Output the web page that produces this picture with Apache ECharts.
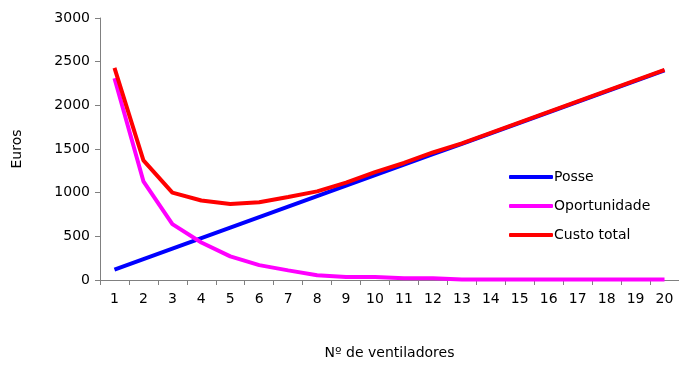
<!DOCTYPE html>
<html><head><meta charset="utf-8">
<script src="https://cdn.jsdelivr.net/npm/echarts@6/dist/echarts.min.js"></script>
<style>html,body{margin:0;padding:0;background:#fff}#c{width:679px;height:365px}</style>
</head><body><div id="c"></div>
<script>
var categories = ['1','2','3','4','5','6','7','8','9','10','11','12','13','14','15','16','17','18','19','20'];
var posse = [120,240,360,480,600,720,840,960,1080,1200,1320,1440,1560,1680,1800,1920,2040,2160,2280,2400];
var oportunidade = [2310,1130,640,430,270,170,110,55,35,35,20,20,5,5,5,5,5,5,5,5];
var custoTotal = [2430,1370,1000,910,870,890,950,1015,1115,1235,1340,1460,1565,1685,1805,1925,2045,2165,2285,2405];
var yTicks = [0,500,1000,1500,2000,2500,3000];

var font = 'DejaVu Sans, sans-serif';
var fs = 14;
var chart = echarts.init(document.getElementById('c'));
chart.setOption({
  animation: false,
  textStyle: {fontFamily: font},
  grid: {left: 100, top: 18, right: -1, bottom: 83, containLabel: false},
  legend: {
    orient: 'vertical', left: 504, top: 165, itemGap: 15,
    itemWidth: 44, itemHeight: 4, icon: 'roundRect',
    textStyle: {fontFamily: font, fontSize: fs, color: '#000', padding: [0,0,0,-4]},
    data: ['Posse','Oportunidade','Custo total']
  },
  xAxis: {
    type: 'category', data: categories, boundaryGap: true,
    name: 'Nº de ventiladores', nameLocation: 'middle', nameGap: 66,
    nameTextStyle: {fontFamily: font, fontSize: fs, color: '#000'},
    axisLine: {lineStyle: {color: '#808080', width: 1}},
    axisTick: {show: true, alignWithLabel: false, length: 5, lineStyle: {color: '#808080'}},
    axisLabel: {fontFamily: font, fontSize: fs, color: '#000', margin: 12, interval: 0}
  },
  yAxis: {
    type: 'value', min: yTicks[0], max: yTicks[yTicks.length-1], interval: 500,
    name: 'Euros', nameLocation: 'middle', nameGap: 76, nameRotate: 90,
    nameTextStyle: {fontFamily: font, fontSize: fs, color: '#000'},
    axisLine: {show: true, lineStyle: {color: '#808080', width: 1}},
    axisTick: {show: true, length: 5, lineStyle: {color: '#808080'}},
    splitLine: {show: false},
    axisLabel: {fontFamily: font, fontSize: fs, color: '#000', margin: 10,
      formatter: function (v) { return String(v); }}
  },
  series: [
    {name: 'Posse', type: 'line', data: posse, showSymbol: false, symbol: 'none',
     lineStyle: {color: '#0000ff', width: 4}, itemStyle: {color: '#0000ff'}},
    {name: 'Oportunidade', type: 'line', data: oportunidade, showSymbol: false, symbol: 'none',
     lineStyle: {color: '#ff00ff', width: 4}, itemStyle: {color: '#ff00ff'}},
    {name: 'Custo total', type: 'line', data: custoTotal, showSymbol: false, symbol: 'none',
     lineStyle: {color: '#ff0000', width: 4}, itemStyle: {color: '#ff0000'}}
  ]
});
</script></body></html>
